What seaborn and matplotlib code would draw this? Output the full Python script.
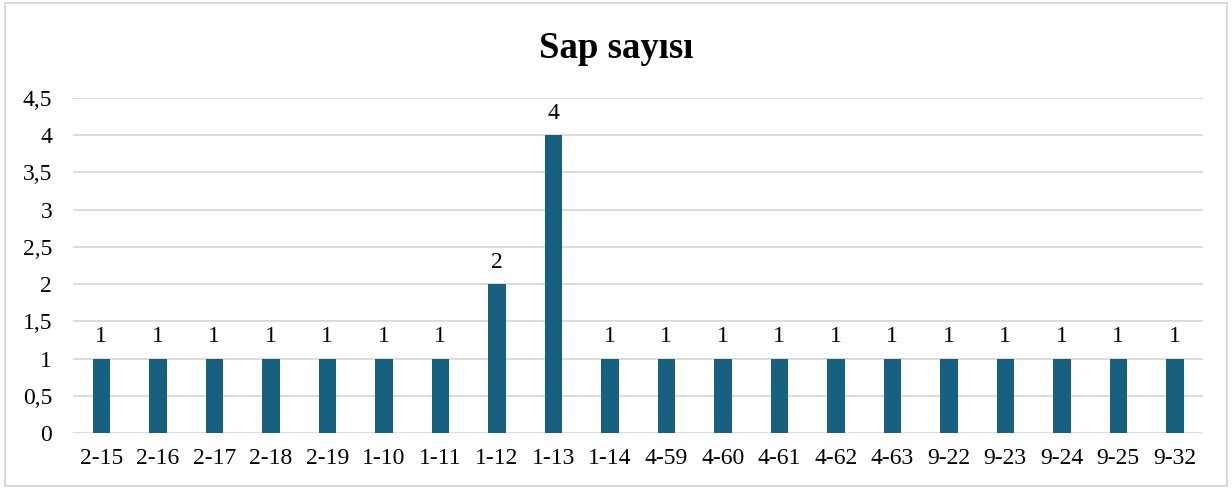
import matplotlib
matplotlib.use("Agg")
import matplotlib.pyplot as plt
import seaborn as sns
import pandas as pd

# chart data
categories = ["2-15", "2-16", "2-17", "2-18", "2-19", "1-10", "1-11", "1-12", "1-13", "1-14",
              "4-59", "4-60", "4-61", "4-62", "4-63", "9-22", "9-23", "9-24", "9-25", "9-32"]
values = [1, 1, 1, 1, 1, 1, 1, 2, 4, 1, 1, 1, 1, 1, 1, 1, 1, 1, 1, 1]
yticks = [0, 0.5, 1, 1.5, 2, 2.5, 3, 3.5, 4, 4.5]
ytick_labels = ["0", "0,5", "1", "1,5", "2", "2,5", "3", "3,5", "4", "4,5"]

df = pd.DataFrame({"Kod": categories, "Sap": values})

sns.set_theme(style="white")
plt.rcParams["font.family"] = ["Liberation Serif", "DejaVu Serif"]
plt.rcParams["text.color"] = "black"

fig = plt.figure(figsize=(12.32, 4.88), dpi=100)
ax = fig.add_axes([0.0593, 0.1127, 0.9172, 0.6865])

sns.barplot(data=df, x="Kod", y="Sap", color="#17607F", saturation=1,
            width=0.31, linewidth=0, ax=ax, zorder=3)

ax.set_ylim(0, 4.5)
ax.set_xlim(-0.5, len(categories) - 0.5)
ax.set_yticks(yticks)
ax.set_yticklabels(ytick_labels)
ax.grid(axis="y", color="#D9D9D9", linewidth=1.3, zorder=0)
ax.set_axisbelow(True)
for s in ax.spines.values():
    s.set_visible(False)
ax.tick_params(axis="both", length=0, labelsize=17, colors="black")
ax.tick_params(axis="x", pad=11)
ax.tick_params(axis="y", pad=15)
ax.set_xlabel("")
ax.set_ylabel("")

ax.bar_label(ax.containers[0], labels=[str(v) for v in values], padding=8,
             fontsize=17, color="black")

fig.text(0.5, 0.9, "Sap sayısı", ha="center", va="center",
         fontsize=26.5, fontweight="bold", color="black")

# outer border
border = plt.Rectangle((0.004, 0.004), 0.992, 0.99, transform=fig.transFigure,
                       fill=False, edgecolor="#D9D9D9", linewidth=1.5)
fig.patches.append(border)

fig.savefig("out.png", dpi=100)
plt.close()
